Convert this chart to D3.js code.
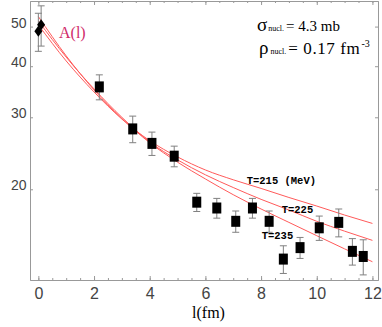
<!DOCTYPE html>
<html>
<head>
<meta charset="utf-8">
<script src="https://d3js.org/d3.v7.min.js"></script>
<style>
  body { margin: 0; background: #fff; }
  svg { display: block; }
</style>
</head>
<body>
<svg id="chart" width="382" height="327"></svg>
<script>
// values
const curveL = [0, 1, 2, 3, 4, 5, 6, 7, 8, 9, 10, 11, 12];
const curveT215 = [50.5, 41.2, 34.6, 29.7, 26.3, 24.0, 22.3, 21.1, 20.1, 19.1, 18.2, 17.3, 16.5];
const curveT225 = [51.6, 42.1, 35.2, 30.0, 26.1, 23.6, 21.7, 20.2, 18.9, 17.8, 16.7, 15.8, 15.0];
const curveT235 = [52.9, 42.4, 35.0, 29.8, 26.0, 23.3, 21.2, 19.4, 17.9, 16.6, 15.4, 14.3, 13.3];
const curveNames = ["T=215 (MeV)", "T=225", "T=235"];

const diamondL = [0, 0.1];
const diamondA = [48.7, 50.5];
const diamondErr = [5.2, 5.7];

const squareL = [2.19, 3.39, 4.08, 4.88, 5.69, 6.41, 7.09, 7.69, 8.29, 8.80, 9.40, 10.09, 10.79, 11.28, 11.67];
const squareA = [35.6, 28.1, 25.9, 24.1, 18.6, 18.0, 16.7, 18.0, 16.7, 13.5, 14.4, 16.1, 16.6, 14.1, 13.7];
const squareErr = [2.5, 2.1, 1.7, 1.4, 0.95, 1.0, 1.0, 1.0, 1.0, 1.05, 0.85, 1.1, 1.3, 1.05, 1.35];

const xTicks = [0, 2, 4, 6, 8, 10, 12];
const yTicks = [20, 30, 40, 50];

var svg = d3.select("#chart");
// plot frame (pixels)
var pL = 30, pR = 378, pT = 1, pB = 280;
var axisCol = "#999";

var x = d3.scaleLinear().domain([-0.3, 12.2]).range([pL, pR]);
var y = d3.scaleLog().domain([12.0, 57.75]).range([pB, pT]);

// frame + ticks (inward on all four sides)
var minorX = d3.range(0, 12.01, 0.5);
function styleAxis(g) {
    g.selectAll("path").attr("stroke", axisCol);
    g.selectAll("line").attr("stroke", axisCol);
    g.selectAll("text")
        .attr("fill", "#444")
        .attr("font-family", "Liberation Sans, Arial, sans-serif");
}
svg.append("g").attr("transform", "translate(0," + pB + ")")
    .call(d3.axisBottom(x).tickValues(minorX).tickSize(-2).tickSizeOuter(0).tickFormat(""))
    .call(styleAxis);
svg.append("g").attr("transform", "translate(0," + pB + ")")
    .call(d3.axisBottom(x).tickValues(xTicks).tickSize(-4).tickSizeOuter(0).tickPadding(8))
    .call(styleAxis)
    .selectAll("text").attr("font-size", "16px");
svg.append("g").attr("transform", "translate(0," + pT + ")")
    .call(d3.axisTop(x).tickValues(minorX).tickSize(-2).tickSizeOuter(0).tickFormat(""))
    .call(styleAxis);
svg.append("g").attr("transform", "translate(0," + pT + ")")
    .call(d3.axisTop(x).tickValues(xTicks).tickSize(-4).tickSizeOuter(0).tickFormat(""))
    .call(styleAxis);
svg.append("g").attr("transform", "translate(" + pL + ",0)")
    .call(d3.axisLeft(y).tickValues(yTicks).tickSize(-3).tickSizeOuter(0).tickPadding(3.5).tickFormat(d3.format("d")))
    .call(styleAxis)
    .selectAll("text").attr("font-size", "14px").attr("dy", "0.05em");
svg.append("g").attr("transform", "translate(" + pR + ",0)")
    .call(d3.axisRight(y).tickValues(yTicks).tickSize(-3).tickSizeOuter(0).tickFormat(""))
    .call(styleAxis);

// model curves
var line = d3.line()
    .x(function(d) { return x(d[0]); })
    .y(function(d) { return y(d[1]); })
    .curve(d3.curveMonotoneX);
[curveT215, curveT225, curveT235].forEach(function(vals) {
    svg.append("path")
        .datum(curveL.map(function(l, i) { return [l, vals[i]]; }))
        .attr("d", line)
        .attr("fill", "none")
        .attr("stroke", "#ff5a5a")
        .attr("stroke-width", 1);
});

// error bars
function errBars(ls, as, es) {
    var g = svg.append("g").attr("stroke", "#808080").attr("stroke-width", 1);
    ls.forEach(function(l, i) {
        var cx = x(l), y1 = y(as[i] + es[i]), y2 = y(as[i] - es[i]);
        g.append("line").attr("x1", cx).attr("x2", cx).attr("y1", y1).attr("y2", y2);
        g.append("line").attr("x1", cx - 3.5).attr("x2", cx + 3.5).attr("y1", y1).attr("y2", y1);
        g.append("line").attr("x1", cx - 3.5).attr("x2", cx + 3.5).attr("y1", y2).attr("y2", y2);
    });
}
errBars(diamondL, diamondA, diamondErr);
errBars(squareL, squareA, squareErr);

svg.append("g").selectAll("rect")
    .data(squareL)
    .enter().append("rect")
    .attr("x", function(d) { return x(d) - 4.5; })
    .attr("y", function(d, i) { return y(squareA[i]) - 5.5; })
    .attr("width", 9)
    .attr("height", 11)
    .attr("fill", "#000");

svg.append("g").selectAll("path")
    .data(diamondL)
    .enter().append("path")
    .attr("transform", function(d, i) { return "translate(" + x(d) + "," + y(diamondA[i]) + ")"; })
    .attr("d", "M0,-5.5L4,0L0,5.5L-4,0Z")
    .attr("fill", "#000");

// curve labels
var labPos = [[246.7, 184], [281.7, 213.3], [261.7, 239.3]];
svg.append("g").selectAll("text")
    .data(curveNames)
    .enter().append("text")
    .attr("x", function(d, i) { return labPos[i][0]; })
    .attr("y", function(d, i) { return labPos[i][1]; })
    .attr("font-family", "Liberation Mono, Courier New, monospace")
    .attr("font-weight", "bold")
    .attr("font-size", "10.5px")
    .attr("fill", "#000")
    .text(function(d) { return d; });

// annotations
var serif = "Liberation Serif, Times New Roman, serif";
svg.append("text").attr("x", 59).attr("y", 38)
    .attr("font-family", serif).attr("font-size", "16px").attr("fill", "#d02a6a")
    .text("A(l)");

var t1 = svg.append("text").attr("x", 257).attr("y", 31)
    .attr("font-family", serif).attr("fill", "#000");
t1.append("tspan").attr("font-size", "19px").text("σ");
t1.append("tspan").attr("font-size", "8px").attr("dx", 1).text("nucl.");
t1.append("tspan").attr("font-size", "15px").attr("dx", 2).text("= 4.3 mb");

var t2 = svg.append("text").attr("x", 259).attr("y", 54)
    .attr("font-family", serif).attr("fill", "#000");
t2.append("tspan").attr("font-size", "19px").text("ρ");
t2.append("tspan").attr("font-size", "8px").attr("dx", 2).text("nucl.");
t2.append("tspan").attr("font-size", "17px").attr("dx", 2).attr("letter-spacing", "0.6").text("= 0.17 fm");
t2.append("tspan").attr("font-size", "10px").attr("dx", 1).attr("dy", -7).text("-3");

svg.append("text").attr("x", 208.5).attr("y", 318)
    .attr("text-anchor", "middle")
    .attr("font-family", serif).attr("font-size", "16px").attr("fill", "#000")
    .text("l(fm)");
</script>
</body>
</html>
